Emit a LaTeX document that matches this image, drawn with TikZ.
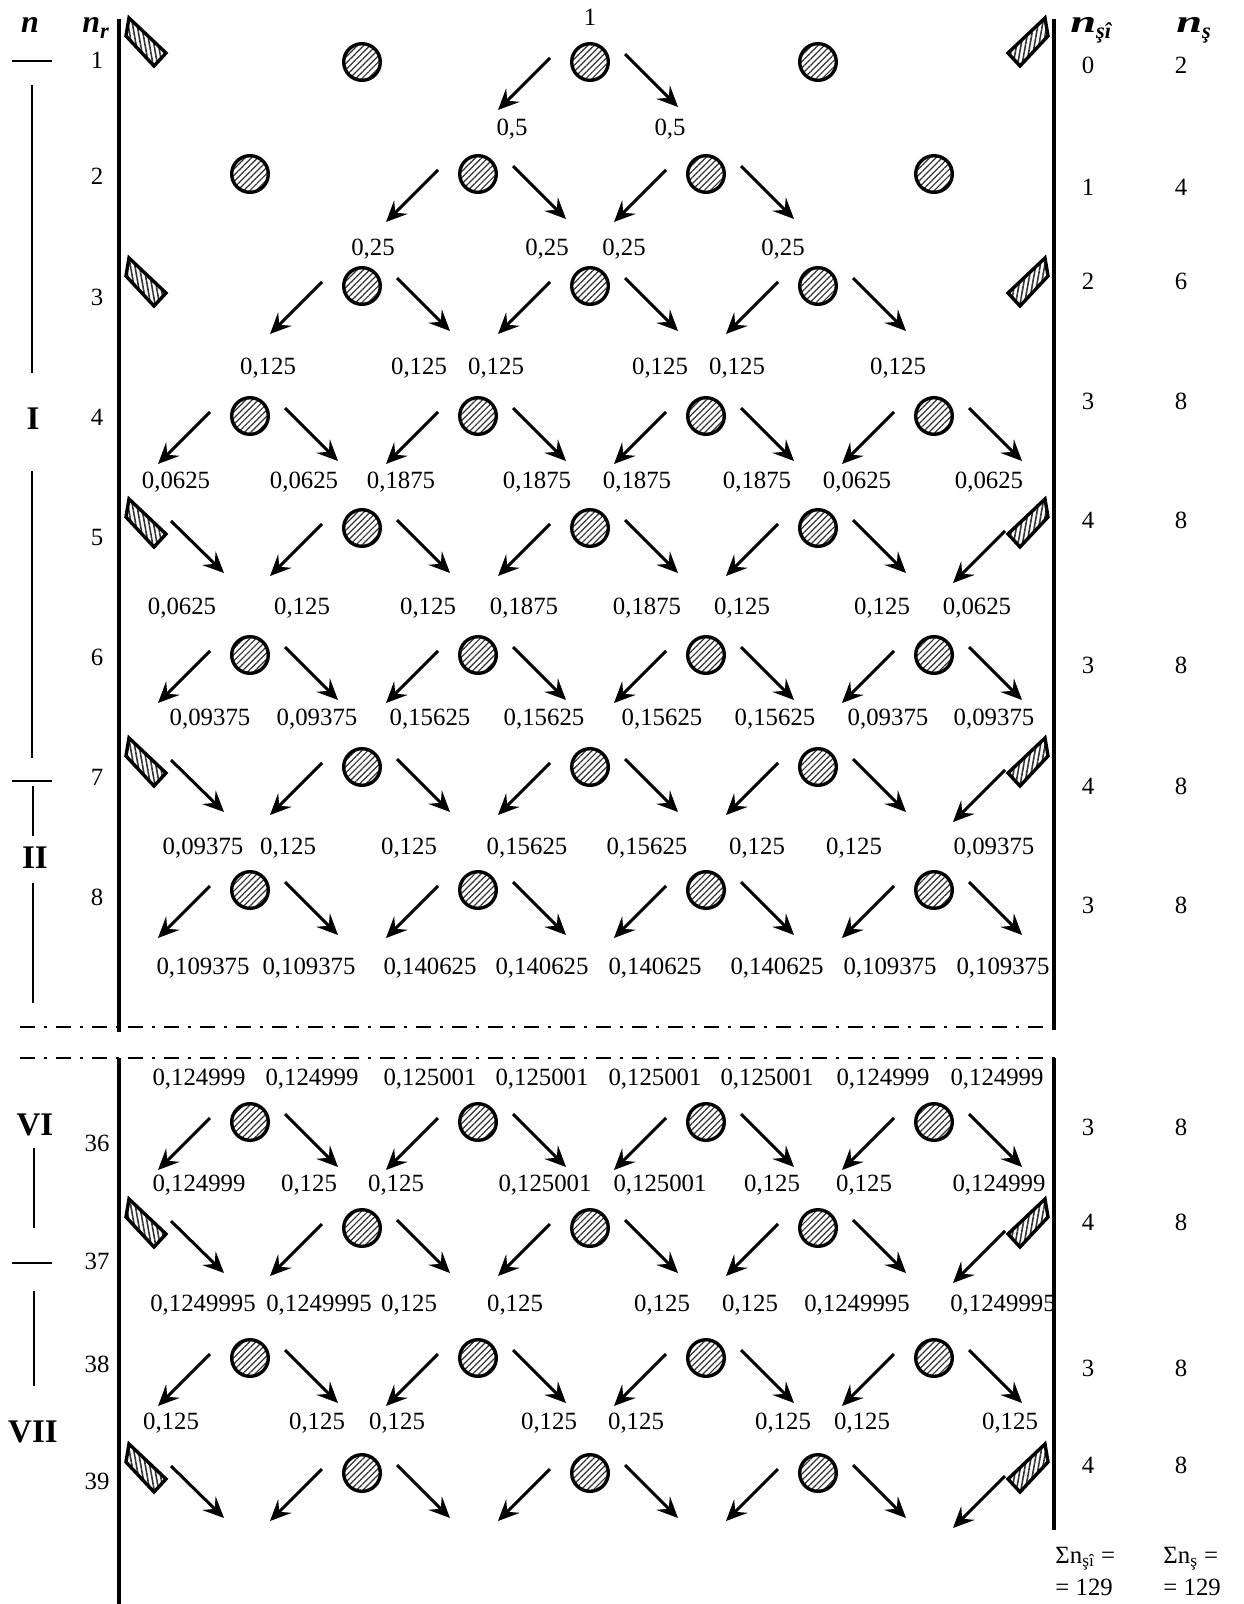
\documentclass[tikz,border=0pt]{standalone}
\usepackage{fontspec}
\setmainfont{Liberation Serif}
\usetikzlibrary{arrows.meta,patterns.meta}
\newcommand\labrow[2]{\foreach \x/\t [count=\k] in {#2} {\node[lbl] (lab#1-\k) at (\x,#1) {\t};}}
\begin{document}
\begin{tikzpicture}[x=0.5pt,y=-0.5pt,
  ball/.style={circle,draw,line width=1.7pt,minimum size=18.3pt,inner sep=0pt,
    pattern={Lines[angle=45,distance=2.2pt,line width=0.6pt]},pattern color=black!80},
  lwallrect/.style={draw,line width=1.7pt,line join=miter,
    pattern={Lines[angle=100,distance=2.2pt,line width=0.8pt]},pattern color=black!80},
  rwallrect/.style={draw,line width=1.7pt,line join=miter,
    pattern={Lines[angle=80,distance=2.2pt,line width=0.8pt]},pattern color=black!80},
  arr/.style={line width=1.5pt,-{Stealth[length=10.5pt,width=9.5pt,inset=4pt]}},
  wall/.style={line width=2pt},
  sepline/.style={line width=1pt},
  lbl/.style={font=\fontsize{12.4}{14}\selectfont,inner sep=0pt},
  hdr/.style={font=\fontsize{16}{18}\selectfont\bfseries\itshape,inner sep=0pt},
  roman/.style={font=\fontsize{16.5}{18}\selectfont\bfseries,inner sep=0pt},
  dashdot/.style={line width=0.8pt,dash pattern=on 7.5pt off 4.5pt on 1.5pt off 4.5pt}
]
\useasboundingbox (0,0) rectangle (1243,1604);

% walls
\coordinate (wl1) at (119,19); \coordinate (wl2) at (119,1032);
\coordinate (wl3) at (119,1058); \coordinate (wl4) at (119,1604);
\coordinate (wr1) at (1054,19); \coordinate (wr2) at (1054,1030);
\coordinate (wr3) at (1054,1058); \coordinate (wr4) at (1054,1530);
\draw[wall] (wl1) -- (wl2); \draw[wall] (wl3) -- (wl4);
\draw[wall] (wr1) -- (wr2); \draw[wall] (wr3) -- (wr4);

% dash-dot break lines
\coordinate (d1a) at (20,1027); \coordinate (d1b) at (1055,1027);
\coordinate (d2a) at (20,1058); \coordinate (d2b) at (1055,1058);
\draw[dashdot] (d1a) -- (d1b);
\draw[dashdot] (d2a) -- (d2b);

% balls
\foreach \r/\y in {1/62,3/286,5/528,7/767,37/1228,39/1473}
  \foreach \x [count=\k] in {362,590,818}
    {\node[ball] (b\r-\k) at (\x,\y) {};}
\foreach \r/\y in {2/174,4/416,6/655,8/890,36/1122,38/1358}
  \foreach \x [count=\k] in {250,478,706,934}
    {\node[ball] (b\r-\k) at (\x,\y) {};}

% ball arrows
\foreach \n in {1-2,2-2,2-3,3-1,3-2,3-3,4-1,4-2,4-3,4-4,5-1,5-2,5-3,6-1,6-2,6-3,6-4,
  7-1,7-2,7-3,8-1,8-2,8-3,8-4,36-1,36-2,36-3,36-4,37-1,37-2,37-3,38-1,38-2,38-3,38-4,39-1,39-2,39-3}
  {\draw[arr] ([shift={(-40,-4)}]b\n.center) -- ([shift={(-92,48)}]b\n.center);
   \draw[arr] ([shift={(35,-8)}]b\n.center) -- ([shift={(88,45)}]b\n.center);}

% wall plates
\foreach \r/\y in {1/42,3/282,5/523,7/762,37/1223,39/1468}
  {\coordinate (L\r) at (146,\y);
   \coordinate (R\r) at (1028,\y);
   \draw[lwallrect] ([shift={(-17,-24)}]L\r) -- ([shift={(20,11)}]L\r) -- ([shift={(8,24)}]L\r) -- ([shift={(-20,-6)}]L\r) -- cycle;
   \draw[rwallrect] ([shift={(17,-24)}]R\r) -- ([shift={(20,-6)}]R\r) -- ([shift={(-8,24)}]R\r) -- ([shift={(-20,11)}]R\r) -- cycle;}
\foreach \r in {5,7,37,39}
  {\draw[arr] ([shift={(25,-2)}]L\r) -- ([shift={(78,50)}]L\r);
   \draw[arr] ([shift={(-23,8)}]R\r) -- ([shift={(-75,60)}]R\r);}

% probability labels
\labrow{17}{590/1}
\labrow{129}{512/{0,5},670/{0,5}}
\labrow{249}{373/{0,25},547/{0,25},624/{0,25},783/{0,25}}
\labrow{368}{268/{0,125},419/{0,125},496/{0,125},660/{0,125},737/{0,125},898/{0,125}}
\labrow{482}{176/{0,0625},304/{0,0625},401/{0,1875},537/{0,1875},637/{0,1875},757/{0,1875},857/{0,0625},989/{0,0625}}
\labrow{608}{182/{0,0625},302/{0,125},428/{0,125},524/{0,1875},647/{0,1875},742/{0,125},882/{0,125},977/{0,0625}}
\labrow{719}{210/{0,09375},317/{0,09375},430/{0,15625},544/{0,15625},662/{0,15625},775/{0,15625},888/{0,09375},994/{0,09375}}
\labrow{848}{203/{0,09375},288/{0,125},409/{0,125},527/{0,15625},647/{0,15625},757/{0,125},854/{0,125},994/{0,09375}}
\labrow{968}{203/{0,109375},309/{0,109375},430/{0,140625},542/{0,140625},655/{0,140625},777/{0,140625},890/{0,109375},1003/{0,109375}}
\labrow{1079}{199/{0,124999},312/{0,124999},430/{0,125001},542/{0,125001},655/{0,125001},767/{0,125001},883/{0,124999},997/{0,124999}}
\labrow{1185}{199/{0,124999},309/{0,125},396/{0,125},545/{0,125001},660/{0,125001},772/{0,125},864/{0,125},999/{0,124999}}
\labrow{1305}{203/{0,1249995},319/{0,1249995},409/{0,125},515/{0,125},662/{0,125},750/{0,125},857/{0,1249995},1003/{0,1249995}}
\labrow{1423}{171/{0,125},317/{0,125},397/{0,125},549/{0,125},636/{0,125},783/{0,125},862/{0,125},1010/{0,125}}

% n_r column
\foreach \y/\t [count=\k] in {60/1,176/2,297/3,417/4,537/5,657/6,777/7,897/8,1143/36,1261/37,1364/38,1481/39}
  {\node[lbl] (nr\k) at (97,\y) {\t};}

% right columns
\foreach \y/\a/\b [count=\k] in {65/0/2,187/1/4,281/2/6,401/3/8,520/4/8,665/3/8,786/4/8,905/3/8,1127/3/8,1222/4/8,1368/3/8,1465/4/8}
  {\node[lbl] (nsi\k) at (1088,\y) {\a};
   \node[lbl] (ns\k) at (1181,\y) {\b};}

% headers
\node[hdr,anchor=base] (hn) at (30,33) {n};
\node[hdr,anchor=base west] (hnr) at (82,33) {n\textsubscript{r}};
\node[hdr,anchor=base west] (hnsi) at (1070,33) {\scalebox{1.45}[1]{n}\textsubscript{şî}};
\node[hdr,anchor=base west] (hns) at (1176,33) {\scalebox{1.45}[1]{n}\textsubscript{ş}};

% sums
\node[lbl,anchor=base west] (sum1) at (1055,1563) {Σn\textsubscript{şî} =};
\node[lbl,anchor=base west] (sum1b) at (1055,1595) {= 129};
\node[lbl,anchor=base west] (sum2) at (1163,1563) {Σn\textsubscript{ş} =};
\node[lbl,anchor=base west] (sum2b) at (1163,1595) {= 129};

% left stage column
\coordinate (h1a) at (12,61); \coordinate (h1b) at (52,61);
\coordinate (h2a) at (12,781); \coordinate (h2b) at (52,781);
\coordinate (h3a) at (12,1263); \coordinate (h3b) at (52,1263);
\draw[sepline] (h1a) -- (h1b);
\draw[sepline] (h2a) -- (h2b);
\draw[sepline] (h3a) -- (h3b);
\coordinate (v1a) at (32,85); \coordinate (v1b) at (32,373);
\coordinate (v2a) at (32,471); \coordinate (v2b) at (32,758);
\coordinate (v3a) at (33,786); \coordinate (v3b) at (33,836);
\coordinate (v4a) at (33,883); \coordinate (v4b) at (33,1003);
\coordinate (v5a) at (34,1148); \coordinate (v5b) at (34,1228);
\coordinate (v6a) at (34,1291); \coordinate (v6b) at (34,1386);
\foreach \v in {1,...,6} {\draw[sepline] (v\v a) -- (v\v b);}
\node[roman] (sI) at (33,419) {I};
\node[roman] (sII) at (35,858) {II};
\node[roman] (sVI) at (35,1125) {VI};
\node[roman] (sVII) at (33,1432) {VII};
\end{tikzpicture}
\end{document}
